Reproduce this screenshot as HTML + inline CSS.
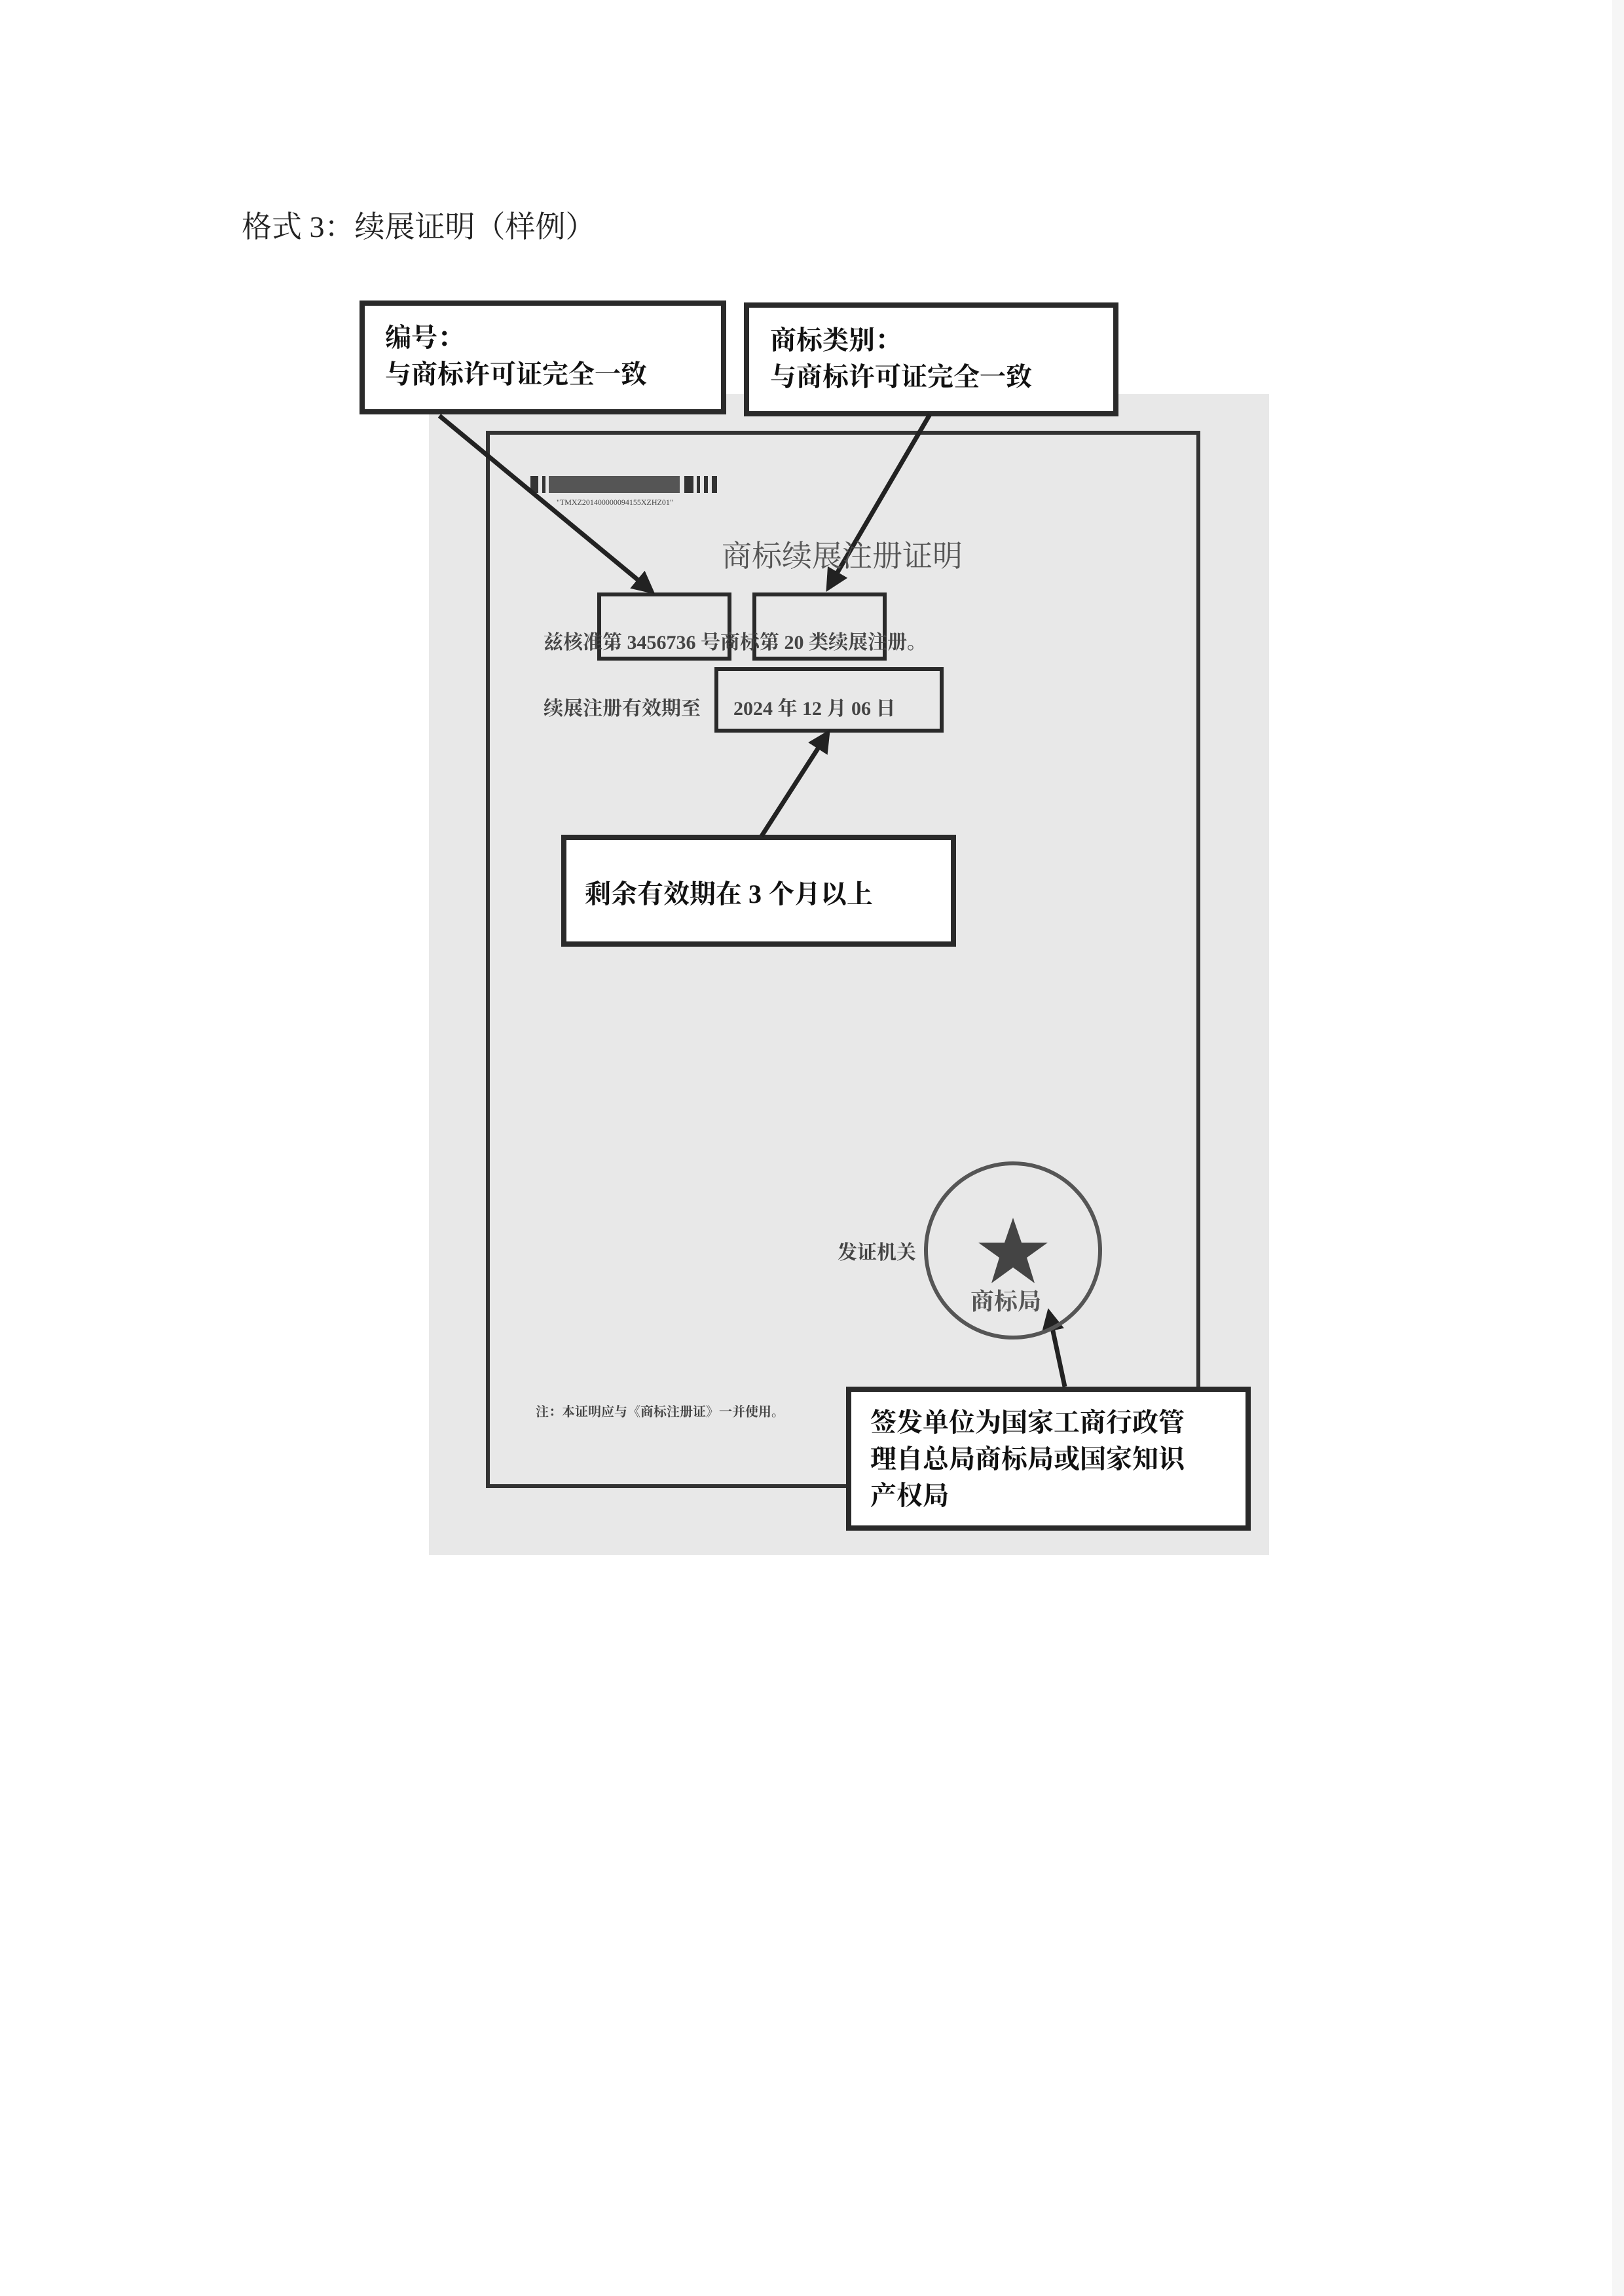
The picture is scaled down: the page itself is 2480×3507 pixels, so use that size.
<!DOCTYPE html>
<html><head><meta charset="utf-8"><style>
body{margin:0;background:#fff}
#p{position:relative;width:2480px;height:3507px;overflow:hidden;background:#fff;font-family:"Liberation Serif","Noto Serif CJK SC",serif}
.t{position:absolute;white-space:nowrap}
.b{font-family:"Liberation Serif","Noto Serif CJK SC",serif;font-weight:bold;color:#111}
</style></head><body><div id="p">
<svg width="2480" height="3507" style="position:absolute;left:0;top:0">
<defs><marker id="a" markerWidth="5" markerHeight="5" refX="4" refY="2.5" orient="auto" markerUnits="strokeWidth"><path d="M0,0 L5,2.5 L0,5 z" fill="#222"/></marker></defs>
<rect x="2462" y="0" width="18" height="3507" fill="#f6f6f6"/>
<rect x="655" y="602" width="1283" height="1773" fill="#e8e8e8"/>
<rect x="745" y="661" width="1085" height="1609" fill="none" stroke="#333" stroke-width="6"/>
<g fill="#333"><rect x="810" y="727" width="12" height="26"/><rect x="828" y="727" width="5" height="26"/><rect x="838" y="727" width="200" height="26" fill="#555"/><rect x="1045" y="727" width="14" height="26"/><rect x="1064" y="727" width="5" height="26"/><rect x="1075" y="727" width="6" height="26"/><rect x="1087" y="727" width="8" height="26"/></g>
<g fill="none" stroke="#2a2a2a" stroke-width="6">
<rect x="915" y="908" width="199" height="98"/>
<rect x="1152" y="908" width="199" height="98"/>
<rect x="1094" y="1022" width="344" height="94"/>
</g>
<g fill="#fff" stroke="#2a2a2a" stroke-width="8">
<rect x="553" y="463" width="552" height="166"/>
<rect x="1140" y="466" width="564" height="166"/>
<rect x="861" y="1279" width="595" height="163"/>
<rect x="1296" y="2122" width="610" height="212"/>
</g>
<g stroke="#222" stroke-width="7" marker-end="url(#a)">
<line x1="671" y1="635" x2="995" y2="903"/>
<line x1="1420" y1="633" x2="1265" y2="898"/>
<line x1="1163" y1="1277" x2="1264" y2="1120"/>
<line x1="1626" y1="2118" x2="1602" y2="2005"/>
</g>
<circle cx="1547" cy="1910" r="133" fill="none" stroke="#555" stroke-width="6"/>
<polygon points="1547,1860 1560,1898 1600,1898 1568,1921 1580,1960 1547,1936 1514,1960 1526,1921 1494,1898 1534,1898" fill="#444"/>
</svg>
<div class="t" style="left:369px;top:310px;font-size:46px;color:#222;font-family:'Liberation Serif','Noto Serif CJK SC',serif">格式 3：续展证明（样例）</div>
<div class="t b" style="left:588px;top:488px;font-size:40px;line-height:56px">编号：<br>与商标许可证完全一致</div>
<div class="t b" style="left:1176px;top:492px;font-size:40px;line-height:56px">商标类别：<br>与商标许可证完全一致</div>
<div class="t b" style="left:893px;top:1334px;font-size:40px">剩余有效期在 3 个月以上</div>
<div class="t b" style="left:1329px;top:2145px;font-size:40px;line-height:56px">签发单位为国家工商行政管<br>理自总局商标局或国家知识<br>产权局</div>
<div class="t" style="left:850px;top:760px;font-size:12px;color:#444">"TMXZ201400000094155XZHZ01"</div>
<div class="t" style="left:1102px;top:813px;font-size:46px;color:#555">商标续展注册证明</div>
<div class="t" style="left:830px;top:956px;font-size:30px;color:#444;font-weight:bold">兹核准第 3456736 号商标第 20 类续展注册。</div>
<div class="t" style="left:830px;top:1057px;font-size:30px;color:#444;font-weight:bold">续展注册有效期至</div>
<div class="t" style="left:1120px;top:1057px;font-size:30px;color:#444;font-weight:bold">2024 年 12 月 06 日</div>
<div class="t" style="left:1279px;top:1888px;font-size:30px;color:#444;font-weight:bold">发证机关</div>
<div class="t" style="left:1482px;top:1960px;font-size:36px;color:#555;font-weight:bold">商标局</div>
<div class="t" style="left:818px;top:2140px;font-size:20px;color:#444;font-weight:bold">注：本证明应与《商标注册证》一并使用。</div>
</div></body></html>
